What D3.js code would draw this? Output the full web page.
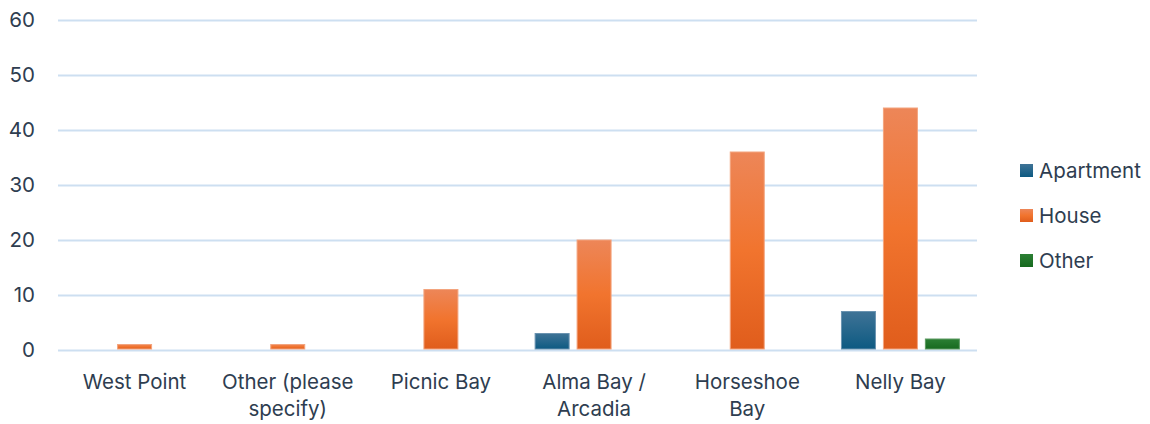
<!DOCTYPE html>
<html>
<head>
<meta charset="utf-8">
<script src="https://cdn.jsdelivr.net/npm/d3@7"></script>
<style>
  html, body { margin: 0; padding: 0; background: #fff; }
  svg { display: block; }
  text { font-family: Inter, "Open Sans", sans-serif; fill: #2e3d50; }
</style>
</head>
<body>
<svg id="chart" width="1150" height="424"></svg>
<script>
// Dwelling type by suburb
const categories = ["West Point", "Other (please specify)", "Picnic Bay", "Alma Bay / Arcadia", "Horseshoe Bay", "Nelly Bay"];
const categoryLines = [["West Point"], ["Other (please", "specify)"], ["Picnic Bay"], ["Alma Bay /", "Arcadia"], ["Horseshoe", "Bay"], ["Nelly Bay"]];
const seriesNames = ["Apartment", "House", "Other"];
const apartment = [0, 0, 0, 3, 0, 7];
const house = [1, 1, 11, 20, 36, 44];
const other = [0, 0, 0, 0, 0, 2];
const yTicks = [0, 10, 20, 30, 40, 50, 60];

const seriesValues = [apartment, house, other];
const palette = {
  Apartment: { top: "#3f7396", bottom: "#0d5a82", edge: "#6a93b0" },
  House: { top: "#ed8658", bottom: "#e05d1c", mid: "#f1742e", edge: "#f3a47e" },
  Other: { top: "#2b7f34", bottom: "#176a1f", edge: "#5c9a62" }
};

const svg = d3.select("#chart");
const margin = { left: 58, right: 173, top: 20, bottom: 74 };
const width = 1150, height = 424;
const fontSize = 20.5;

const x = d3.scaleBand().domain(categories).range([margin.left, width - margin.right]).paddingInner(0).paddingOuter(0);
const x1 = d3.scaleBand().domain(seriesNames).range([0, x.bandwidth()]).paddingInner(0.19).paddingOuter(0.42);
const y = d3.scaleLinear().domain([0, 60]).range([height - margin.bottom, margin.top]);

// gradients for bars
const defs = svg.append("defs");
seriesNames.forEach(name => {
  const c = palette[name];
  const g = defs.append("linearGradient").attr("id", "grad-" + name).attr("x1", 0).attr("y1", 0).attr("x2", 0).attr("y2", 1);
  g.append("stop").attr("offset", "0%").attr("stop-color", c.top);
  if (c.mid) g.append("stop").attr("offset", "50%").attr("stop-color", c.mid);
  g.append("stop").attr("offset", "100%").attr("stop-color", c.bottom);
});

// gridlines
const yAxis = d3.axisLeft(y).tickValues(yTicks).tickSize(-(width - margin.left - margin.right)).tickPadding(23);
const gy = svg.append("g").attr("transform", `translate(${margin.left},0)`).call(yAxis);
gy.select(".domain").remove();
gy.selectAll(".tick line").attr("stroke", "#cddff1").attr("stroke-width", 2);
gy.selectAll(".tick text").attr("font-size", fontSize).attr("fill", "#2e3d50").style("font-family", "Inter, 'Open Sans', sans-serif");

// bars
const groups = svg.append("g").selectAll("g").data(categories).join("g")
  .attr("transform", d => `translate(${x(d)},0)`);

groups.selectAll("rect")
  .data((d, i) => seriesNames.map((s, k) => ({ s, v: seriesValues[k][i] })).filter(e => e.v > 0))
  .join("rect")
  .attr("x", d => x1(d.s))
  .attr("width", x1.bandwidth())
  .attr("y", d => y(d.v))
  .attr("height", d => y(0) - y(d.v) - 1)
  .attr("fill", d => `url(#grad-${d.s})`)
  .attr("stroke", d => palette[d.s].edge)
  .attr("stroke-width", 1);

// category labels
const xl = svg.append("g");
categories.forEach((c, i) => {
  const t = xl.append("text")
    .attr("x", x(c) + x.bandwidth() / 2)
    .attr("y", 389)
    .attr("text-anchor", "middle")
    .attr("font-size", fontSize);
  categoryLines[i].forEach((line, j) => {
    t.append("tspan").attr("x", x(c) + x.bandwidth() / 2).attr("dy", j === 0 ? 0 : 27).text(line);
  });
});

// legend
const legend = svg.append("g").attr("transform", "translate(1020,171)");
seriesNames.forEach((s, i) => {
  const row = legend.append("g").attr("transform", `translate(0,${i * 45})`);
  row.append("rect").attr("x", 0).attr("y", -7).attr("width", 13).attr("height", 13)
    .attr("fill", `url(#grad-${s})`);
  row.append("text").attr("x", 19).attr("y", 0).attr("dy", "0.35em").attr("font-size", fontSize).text(s);
});
</script>
</body>
</html>
